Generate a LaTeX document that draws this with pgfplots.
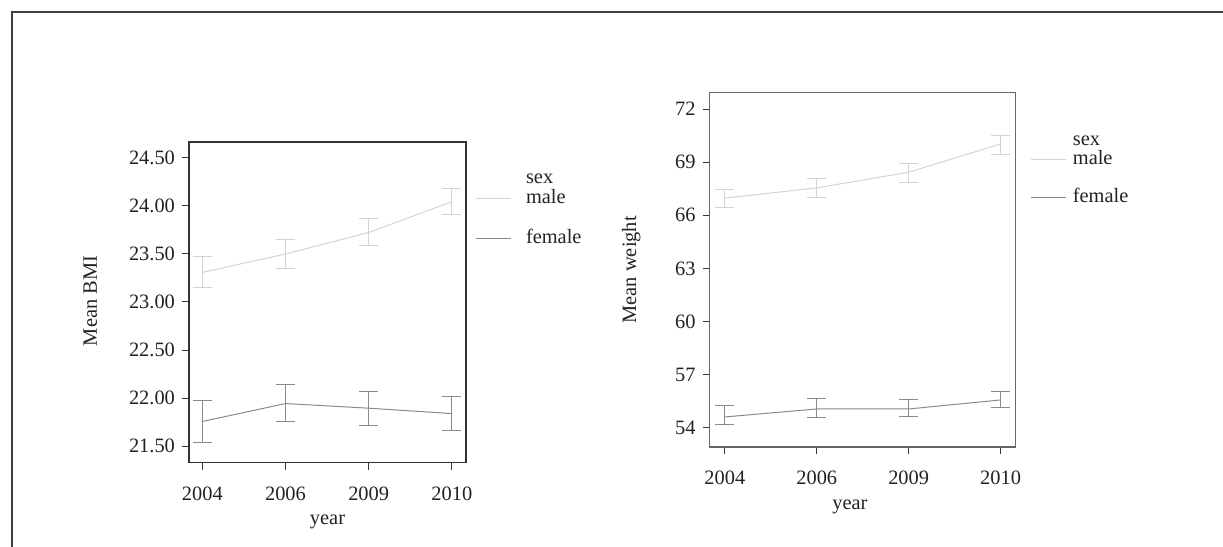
\documentclass[border=0pt]{standalone}
\usepackage{pgfplots}
\pgfplotsset{compat=1.18}
\usepackage{pgfplotstable}
\usepackage{fontspec}
\setmainfont{Liberation Serif}

\definecolor{malec}{HTML}{D4D4D4}
\definecolor{femalec}{HTML}{8A8A8A}
\definecolor{axc}{HTML}{333333}
\definecolor{txt}{HTML}{222222}

% x = category index (0=2004, 1=2006, 2=2009, 3=2010)
\pgfplotstableread{
x y ep em
0 23.306 0.166 0.161
1 23.497 0.151 0.149
2 23.720 0.145 0.130
3 24.040 0.140 0.130
}\bmimale
\pgfplotstableread{
x y ep em
0 21.758 0.222 0.218
1 21.944 0.193 0.186
2 21.896 0.169 0.179
3 21.840 0.173 0.172
}\bmifemale
\pgfplotstableread{
x y ep em
0 66.97 0.50 0.55
1 67.55 0.52 0.55
2 68.43 0.51 0.56
3 70.03 0.49 0.58
}\wmale
\pgfplotstableread{
x y ep em
0 54.62 0.62 0.45
1 55.07 0.60 0.47
2 55.07 0.56 0.43
3 55.58 0.48 0.45
}\wfemale

\pgfplotsset{
  common/.style={
    scale only axis,
    anchor=south west,
    axis line style={axc, line width=0.6pt},
    tick style={axc, line width=0.5pt},
    tick align=outside,
    major tick length=3.5pt,
    xtick pos=bottom, ytick pos=left,
    xtick={0,1,2,3},
    xticklabels={2004,2006,2009,2010},
    xticklabel shift=5pt,
    font=\fontsize{10.2}{12}\selectfont,
    every tick label/.append style={txt},
    /pgf/number format/assume math mode=true,
    label style={txt},
    legend cell align=left,
    legend image code/.code={\draw[#1] (0pt,0pt) -- (17.5pt,0pt);},
    legend style={draw=none, fill=none, inner sep=0pt, outer sep=0pt,
      row sep=0pt, column sep=7.5pt,
      nodes={inner sep=0pt, text=txt, text height=7.5pt, text depth=2.5pt}},
    error bars/y dir=both,
    error bars/y explicit,
  },
  malestyle/.style={malec, line width=0.5pt, mark=none,
    error bars/error bar style={malec, line width=0.5pt},
    error bars/error mark options={malec, mark size=4.75pt, line width=0.5pt, rotate=90}},
  femalestyle/.style={femalec, line width=0.5pt, mark=none,
    error bars/error bar style={femalec, line width=0.5pt},
    error bars/error mark options={femalec, mark size=4.75pt, line width=0.5pt, rotate=90}},
}

\begin{document}
\begin{tikzpicture}
\useasboundingbox (0,0) rectangle (611.5pt,273.5pt);
\draw[line width=0.8pt, black!75] (5.85pt,0pt) -- (5.85pt,267.35pt) -- (611.5pt,267.35pt);

\begin{axis}[common,
  at={(94.5pt,42.15pt)}, width=138.5pt, height=160.35pt,
  xmin=-0.16, xmax=3.17, ymin=21.33, ymax=24.66,
  ytick={21.5,22,22.5,23,23.5,24,24.5},
  yticklabel style={/pgf/number format/.cd, fixed, fixed zerofill, precision=2},
  xlabel={year}, ylabel={Mean BMI},
  xlabel style={at={(axis description cs:0.5,-0.194)}, anchor=base},
  ylabel style={at={(axis description cs:-0.333,0.504)}, anchor=base},
  legend style={at={(axis description cs:1.0325,0.918)}, anchor=north west},
]
\addlegendimage{empty legend}\addlegendentry{sex}
\addplot+[malestyle] table[x=x, y=y, y error plus=ep, y error minus=em] {\bmimale};
\addlegendentry{male}
\addlegendimage{empty legend}\addlegendentry{}
\addplot+[femalestyle] table[x=x, y=y, y error plus=ep, y error minus=em] {\bmifemale};
\addlegendentry{female}
\draw[axc, line width=1pt] (rel axis cs:0,1) -- (rel axis cs:1,1);
\end{axis}

\begin{axis}[common,
  at={(354.85pt,50.05pt)}, width=152.8pt, height=177.1pt,
  xmin=-0.165, xmax=3.16, ymin=52.93, ymax=72.92,
  ytick={54,57,60,63,66,69,72},
  axis line style={black!60, line width=0.6pt},
  xlabel={year}, ylabel={Mean weight},
  xlabel style={at={(axis description cs:0.459,-0.178)}, anchor=base},
  ylabel style={at={(axis description cs:-0.241,0.5)}, anchor=base},
  legend style={at={(axis description cs:1.051,0.891)}, anchor=north west,
    column sep=3pt, nodes={text height=7.25pt, text depth=2.25pt}},
]
\addlegendimage{empty legend}\addlegendentry{sex}
\addplot+[malestyle] table[x=x, y=y, y error plus=ep, y error minus=em] {\wmale};
\addlegendentry{male}
\addlegendimage{empty legend}\addlegendentry{}
\addplot+[femalestyle] table[x=x, y=y, y error plus=ep, y error minus=em] {\wfemale};
\addlegendentry{female}
\end{axis}
\end{tikzpicture}
\end{document}
